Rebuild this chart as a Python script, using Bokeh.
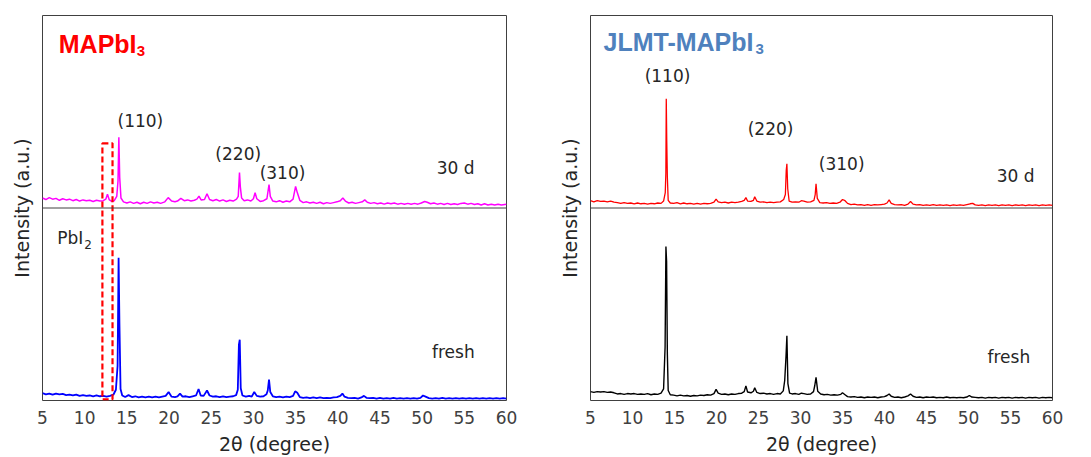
from bokeh.plotting import figure
from bokeh.layouts import row
from bokeh.models import Range1d, Span, Label, FixedTicker
from bokeh.embed import file_html
from bokeh.resources import INLINE

# ---------------- data ----------------
x_ticks = [5, 10, 15, 20, 25, 30, 35, 40, 45, 50, 55, 60]

# MAPbI3 fresh (blue), (2theta, intensity)
mapbi3_fresh = [
    (5.0, 1.9), (5.4, 1.6), (5.8, 1.8), (6.2, 1.5), (6.6, 1.8), (7.0, 1.6), (7.4, 1.7), (7.8, 1.4),
    (8.2, 1.5), (8.6, 1.3), (9.0, 1.5), (9.4, 1.2), (9.8, 1.4), (10.2, 1.2), (10.6, 1.3), (11.0, 1.1),
    (11.4, 1.3), (11.8, 1.1), (12.2, 1.2), (12.6, 1.0), (13.0, 1.2), (13.4, 1.5), (13.7, 2.8),
    (13.9, 9.0), (14.02, 37.1), (14.12, 20.0), (14.25, 3.0), (14.45, 1.3), (14.8, 0.9), (15.2, 1.4),
    (15.6, 0.9), (16.0, 1.1), (16.4, 0.8), (16.8, 1.0), (17.2, 0.8), (17.6, 1.0), (18.0, 0.8),
    (18.4, 1.0), (18.8, 0.8), (19.2, 1.0), (19.6, 1.2), (19.95, 2.2), (20.3, 1.0), (20.7, 0.9),
    (21.0, 1.1), (21.3, 1.8), (21.6, 1.0), (22.0, 1.1), (22.4, 0.9), (22.8, 1.1), (23.2, 1.3),
    (23.5, 3.0), (23.75, 1.3), (24.1, 1.2), (24.5, 2.6), (24.8, 1.3), (25.2, 1.0), (25.6, 1.1),
    (26.0, 0.9), (26.4, 1.1), (26.8, 0.9), (27.2, 1.0), (27.6, 1.1), (27.95, 1.4), (28.15, 2.8),
    (28.28, 14.5), (28.38, 15.8), (28.5, 3.2), (28.7, 1.3), (29.1, 1.0), (29.5, 1.2), (29.8, 1.0),
    (30.1, 2.2), (30.4, 1.2), (30.8, 1.0), (31.2, 1.1), (31.55, 1.6), (31.7, 2.6), (31.85, 5.4),
    (32.0, 2.2), (32.3, 1.1), (32.7, 0.9), (33.1, 1.0), (33.5, 0.8), (33.9, 1.0), (34.3, 0.9),
    (34.7, 1.2), (34.95, 2.4), (35.2, 2.0), (35.5, 0.9), (35.9, 0.7), (36.3, 0.8), (36.7, 0.6),
    (37.1, 0.8), (37.5, 0.6), (37.9, 0.8), (38.3, 0.6), (38.7, 0.7), (39.1, 0.6), (39.5, 0.8),
    (39.9, 0.9), (40.3, 1.2), (40.55, 1.8), (40.8, 1.0), (41.2, 0.7), (41.6, 0.6), (42.0, 0.7),
    (42.4, 0.5), (42.8, 0.8), (43.1, 1.2), (43.4, 0.7), (43.8, 0.6), (44.2, 0.7), (44.6, 0.5),
    (45.0, 0.7), (45.4, 0.5), (45.8, 0.6), (46.2, 0.5), (46.6, 0.7), (47.0, 0.5), (47.4, 0.6),
    (47.8, 0.5), (48.2, 0.6), (48.6, 0.5), (49.0, 0.6), (49.4, 0.5), (49.8, 0.7), (50.1, 1.3),
    (50.4, 1.0), (50.8, 0.6), (51.2, 0.5), (51.6, 0.6), (52.0, 0.5), (52.4, 0.7), (52.8, 0.5),
    (53.2, 0.6), (53.6, 0.5), (54.0, 0.6), (54.4, 0.5), (54.8, 0.6), (55.2, 0.5), (55.6, 0.6),
    (56.0, 0.5), (56.4, 0.6), (56.8, 0.5), (57.2, 0.6), (57.6, 0.5), (58.0, 0.6), (58.4, 0.5),
    (58.8, 0.6), (59.2, 0.5), (59.6, 0.6), (60.0, 0.5),
]

# MAPbI3 after 30 d (magenta), offset above the divider
mapbi3_30d = [
    (5.0, 52.6), (5.4, 52.2), (5.8, 52.7), (6.2, 52.3), (6.6, 52.5), (7.0, 52.0), (7.4, 52.4),
    (7.8, 52.1), (8.2, 52.3), (8.6, 51.9), (9.0, 52.2), (9.4, 51.8), (9.8, 52.1), (10.2, 51.9),
    (10.6, 52.0), (11.0, 51.7), (11.4, 52.0), (11.8, 51.8), (12.2, 51.9), (12.5, 52.3), (12.7, 53.6),
    (12.9, 52.2), (13.2, 51.7), (13.5, 51.9), (13.8, 53.0), (13.95, 57.0), (14.05, 68.4),
    (14.15, 58.0), (14.3, 52.6), (14.6, 51.6), (15.0, 51.3), (15.4, 51.6), (15.8, 51.2), (16.2, 51.5),
    (16.6, 51.1), (17.0, 51.5), (17.4, 51.2), (17.8, 51.6), (18.2, 51.3), (18.6, 51.5), (19.0, 51.2),
    (19.5, 51.6), (19.9, 52.7), (20.3, 51.8), (20.7, 51.6), (21.0, 51.8), (21.4, 52.5), (21.8, 51.9),
    (22.2, 52.1), (22.6, 51.8), (23.0, 52.0), (23.3, 52.3), (23.55, 53.1), (23.8, 52.1), (24.2, 52.2),
    (24.5, 53.7), (24.8, 52.2), (25.2, 51.9), (25.6, 52.2), (26.0, 51.8), (26.4, 52.1), (26.8, 51.7),
    (27.2, 52.0), (27.6, 51.8), (28.0, 52.3), (28.2, 53.0), (28.35, 59.2), (28.45, 55.5),
    (28.6, 52.6), (28.9, 51.9), (29.3, 52.1), (29.7, 51.8), (30.0, 52.4), (30.2, 54.0), (30.4, 52.4),
    (30.8, 51.7), (31.2, 51.9), (31.6, 52.4), (31.85, 56.1), (32.0, 53.0), (32.3, 51.8), (32.7, 51.6),
    (33.1, 51.9), (33.5, 51.5), (33.9, 51.8), (34.3, 51.6), (34.7, 52.3), (35.0, 55.6), (35.2, 54.0),
    (35.5, 52.0), (35.9, 51.4), (36.3, 51.6), (36.7, 51.3), (37.1, 51.5), (37.5, 51.2), (37.9, 51.5),
    (38.3, 51.1), (38.7, 51.4), (39.1, 51.2), (39.5, 51.4), (39.9, 51.6), (40.3, 51.9), (40.6, 52.6),
    (40.9, 51.8), (41.3, 51.3), (41.7, 51.5), (42.1, 51.2), (42.5, 51.4), (42.9, 51.6), (43.2, 52.1),
    (43.5, 51.5), (43.9, 51.2), (44.3, 51.4), (44.7, 51.1), (45.1, 51.3), (45.5, 51.0), (45.9, 51.3),
    (46.3, 51.1), (46.7, 51.3), (47.1, 51.0), (47.5, 51.2), (47.9, 51.0), (48.3, 51.2), (48.7, 51.0),
    (49.1, 51.2), (49.5, 51.0), (49.9, 51.3), (50.3, 51.7), (50.6, 51.5), (51.0, 51.1), (51.4, 51.3),
    (51.8, 51.0), (52.2, 51.2), (52.6, 50.9), (53.0, 51.2), (53.4, 50.9), (53.8, 51.1), (54.2, 50.9),
    (54.6, 51.2), (55.0, 51.3), (55.4, 51.0), (55.8, 51.2), (56.2, 50.9), (56.6, 51.1), (57.0, 50.8),
    (57.4, 51.1), (57.8, 50.8), (58.2, 51.0), (58.6, 50.8), (59.0, 51.0), (59.4, 50.8), (60.0, 51.0),
]

# JLMT-MAPbI3 fresh (black)
jlmt_fresh = [
    (5.0, 2.3), (5.4, 2.1), (5.8, 2.3), (6.2, 2.2), (6.6, 2.3), (7.0, 2.1), (7.4, 2.2), (7.8, 2.0),
    (8.2, 1.7), (8.6, 1.8), (9.0, 1.6), (9.4, 1.8), (9.8, 1.7), (10.2, 1.8), (10.6, 1.6), (11.0, 1.7),
    (11.4, 1.6), (11.8, 1.8), (12.2, 1.5), (12.6, 1.7), (13.0, 1.6), (13.4, 1.9), (13.7, 3.0),
    (13.88, 13.9), (13.98, 40.0), (14.06, 36.0), (14.15, 12.0), (14.25, 2.6), (14.5, 1.5),
    (14.9, 1.4), (15.3, 1.2), (15.7, 1.4), (16.1, 1.2), (16.5, 1.3), (16.9, 1.1), (17.3, 1.3),
    (17.7, 1.2), (18.1, 1.4), (18.5, 1.3), (18.9, 1.5), (19.3, 1.4), (19.7, 1.8), (19.95, 2.9),
    (20.2, 1.9), (20.6, 1.6), (21.0, 1.7), (21.4, 1.5), (21.8, 1.7), (22.2, 1.6), (22.6, 1.8),
    (23.0, 1.9), (23.3, 2.3), (23.5, 3.8), (23.7, 2.2), (24.1, 2.0), (24.4, 2.4), (24.55, 3.3),
    (24.8, 2.1), (25.2, 1.8), (25.6, 1.9), (26.0, 1.7), (26.4, 1.8), (26.8, 1.6), (27.2, 1.8),
    (27.6, 1.7), (27.95, 2.5), (28.12, 5.2), (28.28, 11.7), (28.38, 16.8), (28.5, 4.4), (28.7, 1.9),
    (29.0, 1.7), (29.4, 1.8), (29.8, 1.6), (30.1, 1.9), (30.4, 1.8), (30.8, 1.6), (31.2, 1.7),
    (31.55, 2.3), (31.7, 3.9), (31.85, 6.0), (32.05, 2.4), (32.4, 1.7), (32.8, 1.5), (33.2, 1.6),
    (33.6, 1.4), (34.0, 1.5), (34.4, 1.4), (34.8, 1.6), (35.0, 2.0), (35.3, 1.5), (35.6, 1.0),
    (36.0, 0.9), (36.4, 1.0), (36.8, 0.8), (37.2, 0.9), (37.6, 0.7), (38.0, 0.9), (38.4, 0.8),
    (38.8, 0.9), (39.2, 0.7), (39.6, 0.9), (40.0, 1.0), (40.3, 1.3), (40.55, 1.7), (40.8, 1.1),
    (41.2, 0.8), (41.6, 0.9), (42.0, 0.7), (42.4, 0.9), (42.8, 1.2), (43.1, 1.7), (43.4, 1.1),
    (43.8, 0.8), (44.2, 0.9), (44.6, 0.7), (45.0, 0.9), (45.4, 0.8), (45.8, 0.9), (46.2, 0.7),
    (46.6, 0.8), (47.0, 0.7), (47.4, 0.9), (47.8, 0.7), (48.2, 0.8), (48.6, 0.7), (49.0, 0.8),
    (49.4, 0.7), (49.8, 0.9), (50.1, 1.3), (50.4, 0.9), (50.8, 0.8), (51.2, 0.7), (51.6, 0.8),
    (52.0, 0.6), (52.4, 0.8), (52.8, 0.7), (53.2, 0.8), (53.6, 0.6), (54.0, 0.8), (54.4, 0.7),
    (54.8, 0.8), (55.2, 0.6), (55.6, 0.8), (56.0, 0.7), (56.4, 0.8), (56.8, 0.6), (57.2, 0.8),
    (57.6, 0.7), (58.0, 0.8), (58.4, 0.6), (58.8, 0.8), (59.2, 0.7), (59.6, 0.8), (60.0, 0.7),
]

# JLMT-MAPbI3 after 30 d (red)
jlmt_30d = [
    (5.0, 51.9), (5.4, 51.6), (5.8, 51.9), (6.2, 51.7), (6.6, 51.8), (7.0, 51.6), (7.4, 51.8),
    (7.8, 51.5), (8.2, 51.4), (8.6, 51.2), (9.0, 51.4), (9.4, 51.2), (9.8, 51.3), (10.2, 51.1),
    (10.6, 51.3), (11.0, 51.1), (11.4, 51.2), (11.8, 51.0), (12.2, 51.2), (12.6, 51.1), (13.0, 51.3),
    (13.4, 51.2), (13.7, 51.8), (13.9, 54.0), (13.97, 59.0), (14.02, 78.4), (14.08, 67.3),
    (14.15, 58.0), (14.25, 52.0), (14.5, 51.3), (14.9, 51.2), (15.3, 51.4), (15.7, 51.1), (16.1, 51.3),
    (16.5, 51.1), (16.9, 51.2), (17.3, 51.0), (17.7, 51.2), (18.1, 51.0), (18.5, 51.2), (18.9, 51.1),
    (19.3, 51.2), (19.7, 51.5), (19.95, 52.3), (20.2, 51.6), (20.6, 51.4), (21.0, 51.5), (21.4, 51.3),
    (21.8, 51.5), (22.2, 51.4), (22.6, 51.5), (23.0, 51.7), (23.3, 52.0), (23.5, 52.7), (23.7, 51.8),
    (24.1, 51.7), (24.4, 52.0), (24.55, 52.9), (24.8, 51.8), (25.2, 51.5), (25.6, 51.6), (26.0, 51.4),
    (26.4, 51.5), (26.8, 51.4), (27.2, 51.5), (27.6, 51.6), (28.0, 52.2), (28.2, 53.5), (28.3, 59.7),
    (28.38, 61.5), (28.48, 55.0), (28.65, 51.8), (29.0, 51.5), (29.4, 51.6), (29.8, 51.5),
    (30.1, 51.9), (30.4, 51.8), (30.8, 51.5), (31.2, 51.6), (31.6, 52.0), (31.75, 53.5),
    (31.85, 56.3), (32.0, 52.5), (32.3, 51.4), (32.7, 51.3), (33.1, 51.4), (33.5, 51.2), (33.9, 51.3),
    (34.3, 51.2), (34.7, 51.5), (35.0, 52.2), (35.3, 51.9), (35.6, 51.2), (36.0, 50.9), (36.4, 51.0),
    (36.8, 50.8), (37.2, 50.9), (37.6, 50.7), (38.0, 50.9), (38.4, 50.7), (38.8, 50.9), (39.2, 50.8),
    (39.6, 50.9), (40.0, 51.0), (40.3, 51.3), (40.55, 52.1), (40.8, 51.2), (41.2, 50.9), (41.6, 50.8),
    (42.0, 50.9), (42.4, 50.7), (42.8, 51.0), (43.1, 51.7), (43.4, 51.0), (43.8, 50.8), (44.2, 50.9),
    (44.6, 50.7), (45.0, 50.8), (45.4, 50.7), (45.8, 50.9), (46.2, 50.7), (46.6, 50.8), (47.0, 50.7),
    (47.4, 50.8), (47.8, 50.6), (48.2, 50.8), (48.6, 50.7), (49.0, 50.8), (49.4, 50.7), (49.8, 50.9),
    (50.2, 51.1), (50.5, 51.2), (50.8, 50.8), (51.2, 50.7), (51.6, 50.8), (52.0, 50.6), (52.4, 50.8),
    (52.8, 50.7), (53.2, 50.8), (53.6, 50.6), (54.0, 50.8), (54.4, 50.7), (54.8, 50.8), (55.2, 50.6),
    (55.6, 50.8), (56.0, 50.7), (56.4, 50.8), (56.8, 50.6), (57.2, 50.8), (57.6, 50.7), (58.0, 50.8),
    (58.4, 50.6), (58.8, 50.8), (59.2, 50.7), (59.6, 50.8), (60.0, 50.7),
]

# PbI2 reflection window marked on the MAPbI3 panel (2theta range, intensity range)
pbi2_window_x = [12.1, 13.3]
pbi2_window_y = [0.3, 66.8]

# peak labels: (text, 2theta, intensity)
mapbi3_peak_labels = [("(110)", 16.6, 72.7), ("(220)", 28.2, 63.9), ("(310)", 33.45, 59.0)]
jlmt_peak_labels = [("(110)", 14.17, 84.4), ("(220)", 26.44, 70.6), ("(310)", 34.9, 61.3)]

divider_level = 50

TXT = "DejaVu Sans"
TXT_COLOR = "#262626"


def make_panel(width, bl, br, fresh, aged, fresh_color, aged_color, fresh_w, aged_w):
    p = figure(width=width, height=457, output_backend="svg", toolbar_location=None,
               x_range=Range1d(5, 60), y_range=Range1d(0, 100),
               min_border_left=bl, min_border_right=br, min_border_top=15, min_border_bottom=57)
    p.xgrid.visible = False
    p.ygrid.visible = False
    p.outline_line_color = "#404040"
    p.outline_line_width = 1
    p.background_fill_color = "white"
    p.border_fill_color = "white"

    p.xaxis.ticker = FixedTicker(ticks=x_ticks)
    p.xaxis.axis_line_color = None
    p.xaxis.major_tick_line_color = None
    p.xaxis.minor_tick_line_color = None
    p.xaxis.major_tick_out = 0
    p.xaxis.major_tick_in = 0
    p.xaxis.major_label_standoff = 10
    p.xaxis.major_label_text_font = TXT
    p.xaxis.major_label_text_font_size = "17px"
    p.xaxis.major_label_text_color = "#404040"
    p.xaxis.axis_label = "2θ (degree)"
    p.xaxis.axis_label_text_font = TXT
    p.xaxis.axis_label_text_font_size = "19px"
    p.xaxis.axis_label_text_font_style = "normal"
    p.xaxis.axis_label_text_color = TXT_COLOR
    p.xaxis.axis_label_standoff = 6

    p.yaxis.ticker = FixedTicker(ticks=[])
    p.yaxis.axis_line_color = None
    p.yaxis.major_tick_line_color = None
    p.yaxis.minor_tick_line_color = None
    p.yaxis.major_tick_out = 0
    p.yaxis.major_tick_in = 0
    p.yaxis.axis_label = "Intensity (a.u.)"
    p.yaxis.axis_label_text_font = TXT
    p.yaxis.axis_label_text_font_size = "19px"
    p.yaxis.axis_label_text_font_style = "normal"
    p.yaxis.axis_label_text_color = TXT_COLOR
    p.yaxis.axis_label_standoff = 10

    fx, fy = zip(*fresh)
    ax, ay = zip(*aged)
    p.line(list(fx), list(fy), line_color=fresh_color, line_width=fresh_w)
    p.line(list(ax), list(ay), line_color=aged_color, line_width=aged_w)
    p.add_layout(Span(location=divider_level, dimension="width", line_color="#404040", line_width=1))
    return p


def add_text(p, text, x, y, size="17px", align="center", baseline="middle", color=TXT_COLOR,
             font=TXT, style="normal", x_offset=0):
    p.add_layout(Label(x=x, y=y, text=text, text_font=font, text_font_size=size,
                       text_color=color, text_align=align, text_baseline=baseline,
                       text_font_style=style, x_offset=x_offset))


# ---------------- left panel ----------------
p1 = make_panel(545, 42, 39, mapbi3_fresh, mapbi3_30d, "#0000FF", "#FF00FF", 1.8, 1.5)
p1.quad(left=[pbi2_window_x[0]], right=[pbi2_window_x[1]], bottom=[pbi2_window_y[0]],
        top=[pbi2_window_y[1]], fill_color=None, line_color="#FF0000", line_width=2.2,
        line_dash="6 3")
add_text(p1, "MAPbI", 6.93, 92.65, size="25px", align="left", baseline="alphabetic",
         color="#FF0000", font="Liberation Sans", style="bold")
add_text(p1, "3", 6.93, 90.9, size="15px", align="left", baseline="alphabetic",
         color="#FF0000", font="Liberation Sans", style="bold", x_offset=78)
for t, x, y in mapbi3_peak_labels:
    add_text(p1, t, x, y)
add_text(p1, "30 d", 53.96, 60.3)
add_text(p1, "PbI", 6.74, 42.2, align="left", baseline="alphabetic")
add_text(p1, "2", 6.74, 40.6, size="12px", align="left", baseline="alphabetic", x_offset=27)
add_text(p1, "fresh", 53.7, 12.7)

# ---------------- right panel ----------------
p2 = make_panel(544, 45, 37, jlmt_fresh, jlmt_30d, "#000000", "#FF0000", 1.4, 1.3)
add_text(p2, "JLMT-MAPbI", 6.55, 93.06, size="25px", align="left", baseline="alphabetic",
         color="#4F81BD", font="Liberation Sans", style="bold")
add_text(p2, "3", 6.55, 91.4, size="15px", align="left", baseline="alphabetic",
         color="#4F81BD", font="Liberation Sans", style="bold", x_offset=152)
for t, x, y in jlmt_peak_labels:
    add_text(p2, t, x, y)
add_text(p2, "30 d", 55.6, 58.2)
add_text(p2, "fresh", 54.8, 11.2)

layout = row(p1, p2)
open("out.html", "w").write(file_html(layout, INLINE))
